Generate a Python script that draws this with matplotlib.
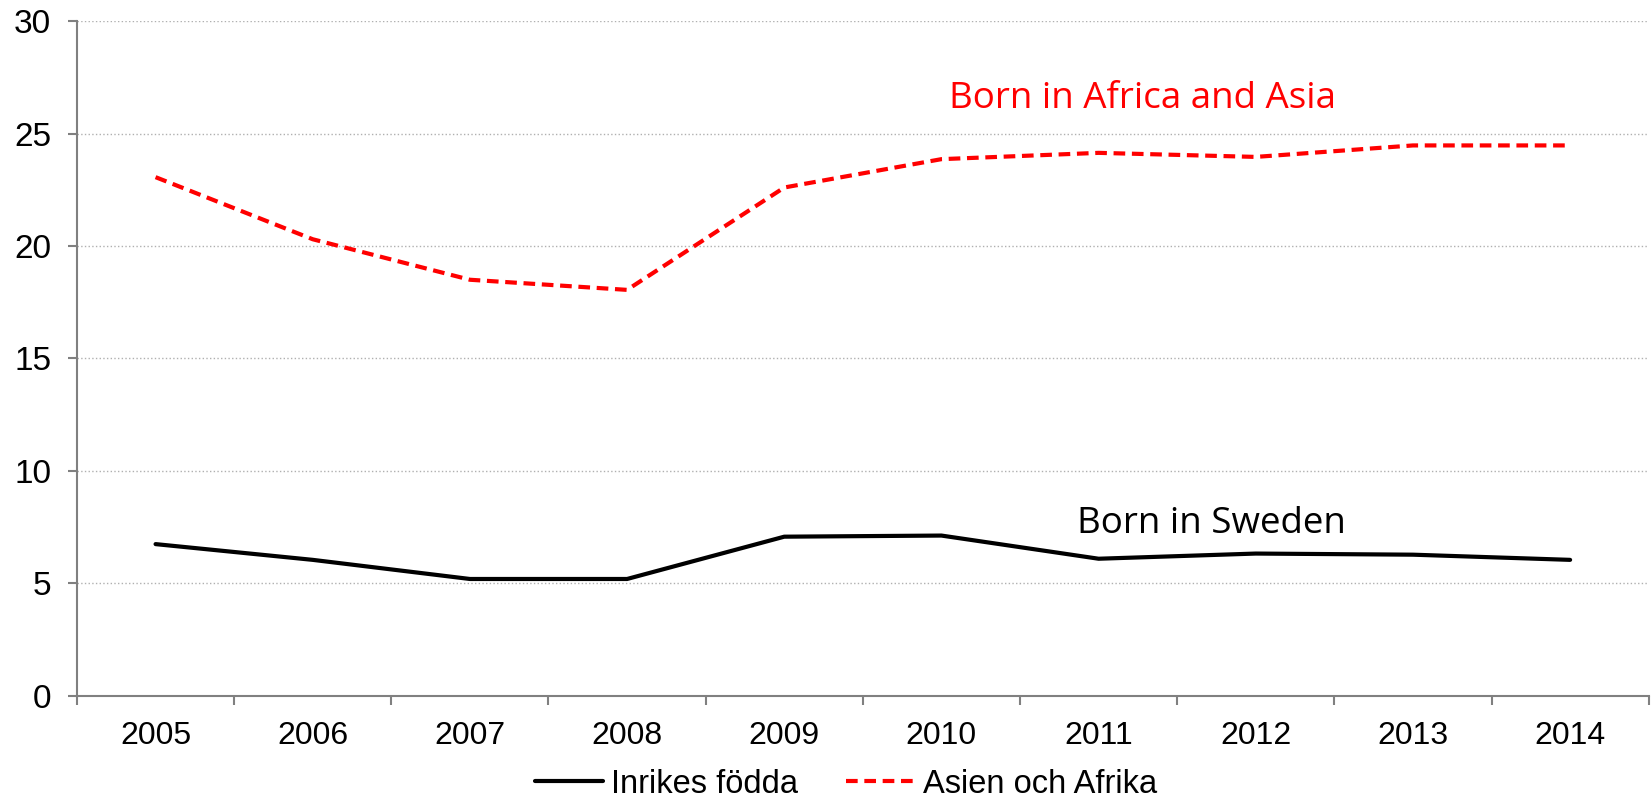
import matplotlib.pyplot as plt
from matplotlib.ticker import FixedLocator

years = ['2005', '2006', '2007', '2008', '2009', '2010', '2011', '2012', '2013', '2014']
inrikes = [6.75, 6.05, 5.2, 5.2, 7.08, 7.13, 6.1, 6.33, 6.28, 6.05]
asien_afrika = [23.06, 20.3, 18.5, 18.05, 22.6, 23.86, 24.14, 23.96, 24.47, 24.47]

plt.rcParams['font.family'] = ['Liberation Sans', 'DejaVu Sans']

fig = plt.figure(figsize=(16.52, 8.02), dpi=100)
ax = fig.add_axes([0.0466, 0.1322, 0.9514, 0.8416])

x = list(range(len(years)))
ax.plot(x, inrikes, color='black', lw=3, label='Inrikes födda', solid_capstyle='round')
ax.plot(x, asien_afrika, color='red', lw=3, ls=(0, (2.8, 1.6)), label='Asien och Afrika')

ax.set_xlim(-0.5, len(years) - 0.5)
ax.set_ylim(0, 30)
ax.set_yticks(range(0, 31, 5))
ax.set_xticks(x)
ax.set_xticklabels(years)
ax.xaxis.set_minor_locator(FixedLocator([i - 0.5 for i in range(len(years) + 1)]))
ax.tick_params(axis='x', which='major', length=0, pad=18, labelsize=23)
ax.tick_params(axis='x', which='minor', length=6.5, width=1.5, color='#808080', direction='out')
ax.tick_params(axis='y', length=6.5, width=1.5, color='#808080', labelsize=24, pad=12)

ax.grid(axis='y', color='#b0b0b0', ls=':', lw=1)
ax.set_axisbelow(True)
for s in ['top', 'right']:
    ax.spines[s].set_visible(False)
for s in ['left', 'bottom']:
    ax.spines[s].set_color('#808080')
    ax.spines[s].set_linewidth(1.5)

ax.text(6.28, 26.14, 'Born in Africa and Asia', color='red', fontsize=26.5,
        family=['Open Sans', 'DejaVu Sans'], ha='center', va='baseline')
ax.text(6.72, 7.26, 'Born in Sweden', color='black', fontsize=26.5,
        family=['Open Sans', 'DejaVu Sans'], ha='center', va='baseline')

fig.legend(loc='center', bbox_to_anchor=(0.512, 0.022), ncol=2, frameon=False,
           fontsize=23.5, handlelength=2.1, handletextpad=0.25, columnspacing=1.47,
           borderpad=0.1)

fig.savefig('out.png', dpi=100)
